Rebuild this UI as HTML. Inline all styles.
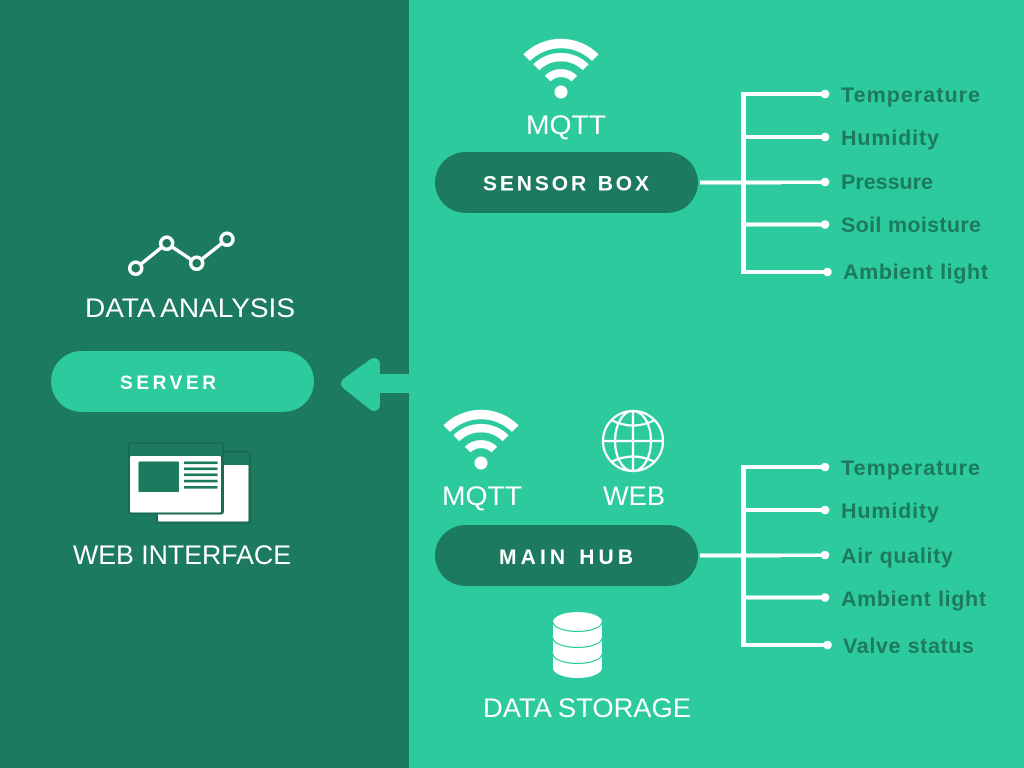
<!DOCTYPE html>
<html>
<head>
<meta charset="utf-8">
<style>
html,body{margin:0;padding:0;background:#2DCA9E}
svg{display:block}
text{font-family:"Liberation Sans",sans-serif}
.big{font-size:27px;fill:#fff}
.pill{font-size:21px;font-weight:700;fill:#fff}
.lab{font-size:21.5px;font-weight:700;fill:#1C7A5F}
</style>
</head>
<body>
<svg width="1024" height="768" viewBox="0 0 1024 768" xmlns="http://www.w3.org/2000/svg">
<defs>
<g id="wifi" fill="none" stroke="#fff">
<path d="M526.7 57.7A48.5 48.5 0 0 1 595.3 57.7" stroke-width="9.5"/>
<path d="M536.3 67.3A35 35 0 0 1 585.7 67.3" stroke-width="8.5"/>
<path d="M547.6 78.6A19 19 0 0 1 574.4 78.6" stroke-width="8"/>
<circle cx="561" cy="92" r="6.5" fill="#fff" stroke="none"/>
</g>
<g id="tree">
<rect x="741" y="92" width="5" height="182" fill="#fff"/>
<rect x="741" y="92" width="84" height="4" fill="#fff"/>
<rect x="741" y="135" width="84" height="4" fill="#fff"/>
<rect x="700" y="180.500" width="81" height="4" fill="#fff"/>
<rect x="741" y="180.500" width="84" height="3.500" fill="#fff"/>
<rect x="741" y="222.500" width="84" height="4" fill="#fff"/>
<rect x="741" y="270" width="87" height="4" fill="#fff"/>
<circle cx="825" cy="94" r="4.3" fill="#fff"/>
<circle cx="825" cy="137" r="4.3" fill="#fff"/>
<circle cx="825" cy="182" r="4.3" fill="#fff"/>
<circle cx="825" cy="224.500" r="4.3" fill="#fff"/>
<circle cx="827.500" cy="272" r="4.3" fill="#fff"/>
</g>
</defs>

<rect width="1024" height="768" fill="#2DCA9E"/>
<rect width="409" height="768" fill="#1C7A5F"/>

<!-- arrow -->
<path d="M347 383.500L374 364V405Z" fill="#2DCA9E" stroke="#2DCA9E" stroke-width="12" stroke-linejoin="round"/>
<rect x="376" y="374" width="33" height="19" fill="#2DCA9E"/>

<!-- chart icon -->
<g fill="#1C7A5F" stroke="#fff" stroke-width="3.500">
<path d="M135.700 268.300L166.700 243.300L196.700 263.300L227 239.300" fill="none"/>
<circle cx="135.700" cy="268.300" r="6"/>
<circle cx="166.700" cy="243.300" r="6"/>
<circle cx="196.700" cy="263.300" r="6"/>
<circle cx="227" cy="239.300" r="6"/>
</g>
<text class="big" x="85" y="317" textLength="210" lengthAdjust="spacingAndGlyphs">DATA ANALYSIS</text>

<!-- server -->
<rect x="51" y="351" width="263" height="61" rx="30.500" fill="#2DCA9E"/>
<text class="pill" x="120" y="389" style="font-size:19px" textLength="96" lengthAdjust="spacing">SERVER</text>

<!-- web interface icon -->
<rect x="156" y="450.500" width="95" height="73" rx="3" fill="#196B53"/>
<rect x="158" y="452.500" width="91" height="12.500" fill="#1C7A5F"/>
<rect x="158" y="465" width="90.500" height="56.500" rx="1" fill="#fff"/>
<rect x="128" y="442" width="96" height="72.500" rx="3" fill="#196B53"/>
<rect x="130" y="444" width="92" height="12" fill="#1C7A5F"/>
<rect x="130" y="456" width="91" height="56.500" rx="1.500" fill="#fff"/>
<rect x="138.500" y="461.500" width="40.500" height="30.500" rx="1" fill="#1C7A5F"/>
<g fill="#1C7A5F">
<rect x="184" y="461.500" width="33.500" height="2.600"/>
<rect x="184" y="467.500" width="33.500" height="2.600"/>
<rect x="184" y="473.500" width="33.500" height="2.600"/>
<rect x="184" y="479.800" width="33.500" height="2.600"/>
<rect x="184" y="486" width="33.500" height="2.600"/>
</g>
<text class="big" x="73" y="564" textLength="218" lengthAdjust="spacingAndGlyphs">WEB INTERFACE</text>

<!-- sensor box -->
<use href="#wifi"/>
<text class="big" x="526" y="134" textLength="80" lengthAdjust="spacingAndGlyphs">MQTT</text>
<rect x="435" y="152" width="263" height="61" rx="30.500" fill="#1C7A5F"/>
<text class="pill" x="483" y="190.500" textLength="166" lengthAdjust="spacing">SENSOR BOX</text>
<use href="#tree"/>
<text class="lab" x="841" y="102" textLength="139" lengthAdjust="spacing">Temperature</text>
<text class="lab" x="841" y="145" textLength="98" lengthAdjust="spacing">Humidity</text>
<text class="lab" x="841" y="189" textLength="92" lengthAdjust="spacing">Pressure</text>
<text class="lab" x="841" y="232" textLength="140" lengthAdjust="spacing">Soil moisture</text>
<text class="lab" x="843" y="279" textLength="145" lengthAdjust="spacing">Ambient light</text>

<!-- main hub -->
<use href="#wifi" x="-80" y="371"/>
<text class="big" x="442" y="505" textLength="80" lengthAdjust="spacingAndGlyphs">MQTT</text>
<g fill="none" stroke="#fff" stroke-width="2.300">
<circle cx="633" cy="441" r="30"/>
<ellipse cx="633" cy="441" rx="18" ry="30"/>
<path d="M633 411V471M603 441H663"/>
<path d="M611 420Q633 431 655 420M611 462Q633 451 655 462"/>
</g>
<text class="big" x="603" y="505" textLength="62" lengthAdjust="spacingAndGlyphs">WEB</text>
<rect x="435" y="525" width="263" height="61" rx="30.500" fill="#1C7A5F"/>
<text class="pill" x="499" y="564" textLength="134" lengthAdjust="spacing">MAIN HUB</text>
<use href="#tree" y="373"/>
<text class="lab" x="841" y="475" textLength="139" lengthAdjust="spacing">Temperature</text>
<text class="lab" x="841" y="518" textLength="98" lengthAdjust="spacing">Humidity</text>
<text class="lab" x="841" y="563" textLength="112" lengthAdjust="spacing">Air quality</text>
<text class="lab" x="841" y="606" textLength="145" lengthAdjust="spacing">Ambient light</text>
<text class="lab" x="843" y="653" textLength="131" lengthAdjust="spacing">Valve status</text>

<!-- database -->
<path d="M553 622A24.500 10 0 0 1 602 622V668A24.500 10 0 0 1 553 668Z" fill="#fff"/>
<g fill="none" stroke="#2DCA9E" stroke-width="1.200">
<path d="M553 622A24.500 9.500 0 0 0 602 622"/>
<path d="M553 638A24.500 9.500 0 0 0 602 638"/>
<path d="M553 654A24.500 9.500 0 0 0 602 654"/>
</g>
<text class="big" x="483" y="717" textLength="208" lengthAdjust="spacingAndGlyphs">DATA STORAGE</text>
</svg>
</body>
</html>
